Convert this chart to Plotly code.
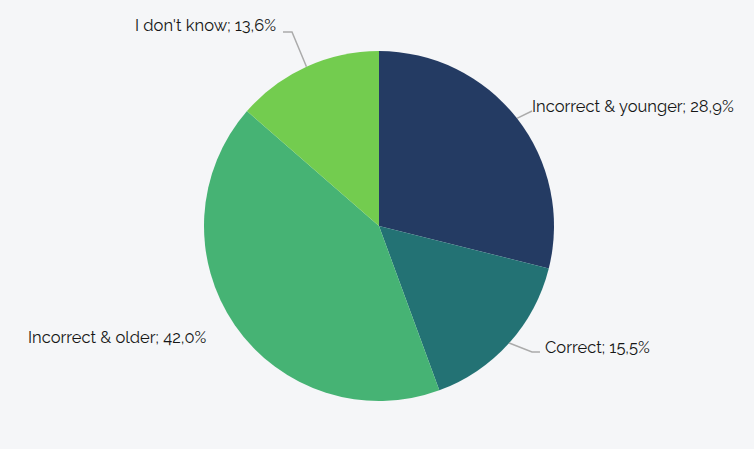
import math
import plotly.graph_objects as go

labels = ["Incorrect & younger", "Correct", "Incorrect & older", "I don't know"]
values = [28.9, 15.5, 42.0, 13.6]
colors = ["#243B63", "#237274", "#46B374", "#73CC4F"]

W, H = 754, 449
CX, CY, R = 379, 226, 175

# label layout (pixel offsets): elbow point, line end, text anchor
label_layout = [
    dict(elbow=(532, 111), end=(532, 111), text=(530, 106), anchor="left", line=True),
    dict(elbow=(532, 352), end=(540, 352), text=(543, 347), anchor="left", line=True),
    dict(elbow=None, end=None, text=(209, 337), anchor="right", line=False),
    dict(elbow=(292, 32), end=(283, 32), text=(278, 25), anchor="right", line=True),
]

def px(x, y):
    return x / W, 1 - y / H

fig = go.Figure()
fig.add_trace(go.Pie(
    labels=labels, values=values, sort=False, direction="clockwise", rotation=0,
    marker=dict(colors=colors, line=dict(width=0)),
    textinfo="none", hoverinfo="label+percent", showlegend=False,
    domain=dict(x=[(CX - R) / W, (CX + R) / W], y=[1 - (CY + R) / H, 1 - (CY - R) / H]),
))

total = sum(values)
cum = 0
shapes, annotations = [], []
for lab, v, lay in zip(labels, values, label_layout):
    mid = (cum + v / 2) / total * 2 * math.pi
    cum += v
    ex, ey = CX + R * math.sin(mid), CY - R * math.cos(mid)
    if lay["line"]:
        pts = [(ex, ey), lay["elbow"], lay["end"]]
        path = "M " + " L ".join("%f,%f" % px(*p) for p in pts)
        shapes.append(dict(type="path", path=path, xref="paper", yref="paper",
                           line=dict(color="#ABABAB", width=1.5)))
    tx, ty = px(*lay["text"])
    annotations.append(dict(
        x=tx, y=ty, xref="paper", yref="paper", showarrow=False,
        xanchor=lay["anchor"], yanchor="middle",
        text="%s; %s%%" % (lab, ("%.1f" % v).replace(".", ",")),
        font=dict(family="Raleway, Lato, sans-serif", size=16.5, color="#161616"),
    ))

fig.update_layout(
    width=W, height=H, margin=dict(l=0, r=0, t=0, b=0),
    paper_bgcolor="#F5F6F8", plot_bgcolor="#F5F6F8",
    shapes=shapes, annotations=annotations,
)
fig.write_html(
    "out.html",
    config={"displayModeBar": False},
    post_script="document.body.style.margin='0';document.body.style.background='#F5F6F8';",
)
